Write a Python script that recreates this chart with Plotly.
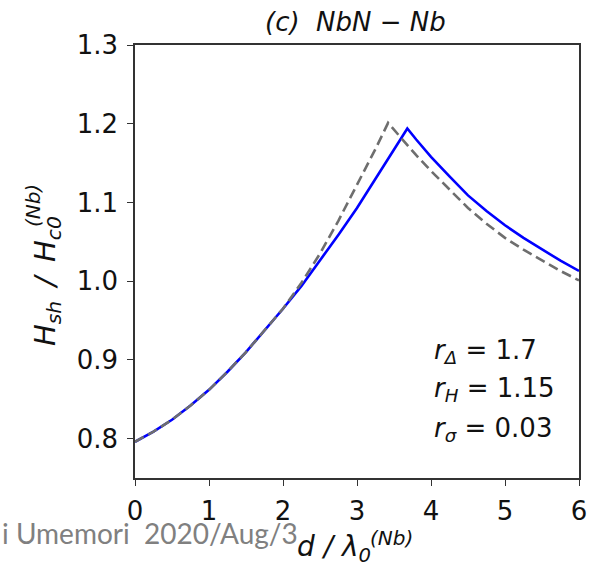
import plotly.graph_objects as go

# Superheating field vs. layer thickness, NbN on Nb
d_blue = [0, 0.25, 0.5, 0.75, 1.0, 1.25, 1.5, 1.75, 2.0, 2.25, 2.5, 2.75, 3.0, 3.25, 3.5, 3.68,
          3.8, 4.0, 4.25, 4.5, 4.75, 5.0, 5.25, 5.5, 5.75, 6.0]
h_blue = [0.796, 0.809, 0.824, 0.842, 0.862, 0.885, 0.910, 0.937, 0.965, 0.994, 1.026, 1.059,
          1.093, 1.130, 1.167, 1.194,
          1.180, 1.158, 1.133, 1.109, 1.089, 1.071, 1.055, 1.040, 1.026, 1.013]

d_gray = [0, 0.25, 0.5, 0.75, 1.0, 1.25, 1.5, 1.75, 2.0, 2.25, 2.5, 2.75, 3.0, 3.25, 3.42,
          3.6, 3.8, 4.0, 4.25, 4.5, 4.75, 5.0, 5.25, 5.5, 5.75, 6.0]
h_gray = [0.796, 0.809, 0.824, 0.842, 0.862, 0.885, 0.910, 0.937, 0.965, 0.998, 1.035, 1.077,
          1.122, 1.168, 1.201,
          1.181, 1.160, 1.140, 1.116, 1.093, 1.073, 1.055, 1.040, 1.026, 1.013, 1.001]

x_ticks = [0, 1, 2, 3, 4, 5, 6]
y_ticks = [0.8, 0.9, 1.0, 1.1, 1.2, 1.3]

params = ["<i>r</i><sub><i>Δ</i></sub> = 1.7",
          "<i>r</i><sub><i>H</i></sub> = 1.15",
          "<i>r</i><sub><i>σ</i></sub> = 0.03"]

FONT = "DejaVu Sans"
AXC = "#333333"
TXT = "#111111"

fig = go.Figure()
fig.add_trace(go.Scatter(x=d_blue, y=h_blue, mode="lines",
                         line=dict(color="#0000ff", width=2.6)))
fig.add_trace(go.Scatter(x=d_gray, y=h_gray, mode="lines",
                         line=dict(color="#6e6e6e", width=2.6, dash="10px,5px")))

axis_common = dict(showgrid=False, zeroline=False, showline=True, linecolor=AXC,
                   linewidth=1.6, mirror=True, ticks="outside", ticklen=6,
                   tickwidth=1.4, tickcolor=AXC, automargin=False,
                   tickfont=dict(family=FONT, size=26, color=TXT))

fig.update_xaxes(range=[0, 6], tickvals=x_ticks, ticktext=[str(v) for v in x_ticks],
                 ticklabelstandoff=3, **axis_common)
fig.update_yaxes(range=[0.75, 1.3], tickvals=y_ticks,
                 ticktext=[f"{v:.1f}" for v in y_ticks], ticklabelstandoff=4,
                 **axis_common)


def label(text, x, y, size, angle=0, xanchor="center", family=FONT, color=TXT):
    return dict(text=text, x=x, y=y, xref="paper", yref="paper", showarrow=False,
                xanchor=xanchor, yanchor="middle", textangle=angle,
                font=dict(family=family, size=size, color=color))


annotations = [
    label("<i>(c)  NbN − Nb</i>", 0.4977, 1.053, 26),
    # y-axis title with stacked superscript
    label("<i>H<sub>sh</sub>\u2002/\u2002H<sub>c0</sub></i>", -0.198, 0.455, 29, angle=-90),
    label("<i>(Nb)</i>", -0.2297, 0.628, 20, angle=-90),
    # x-axis title with stacked superscript
    label("<i>d / λ<sub>0</sub></i>", 0.449, -0.162, 28),
    label("<i>(Nb)</i>", 0.5766, -0.1386, 20),
    label("i Umemori  2020/Aug/3", -0.304, -0.127, 28, xanchor="left",
          family="Lato", color="#808080"),
]
for t, yy in zip(params, [0.2933, 0.2055, 0.112]):
    annotations.append(label(t, 0.669, yy, 26, xanchor="left"))

fig.update_layout(width=590, height=568, margin=dict(l=135, r=11, t=45, b=90),
                  paper_bgcolor="white", plot_bgcolor="white", showlegend=False,
                  annotations=annotations)

fig.write_html("out.html")
